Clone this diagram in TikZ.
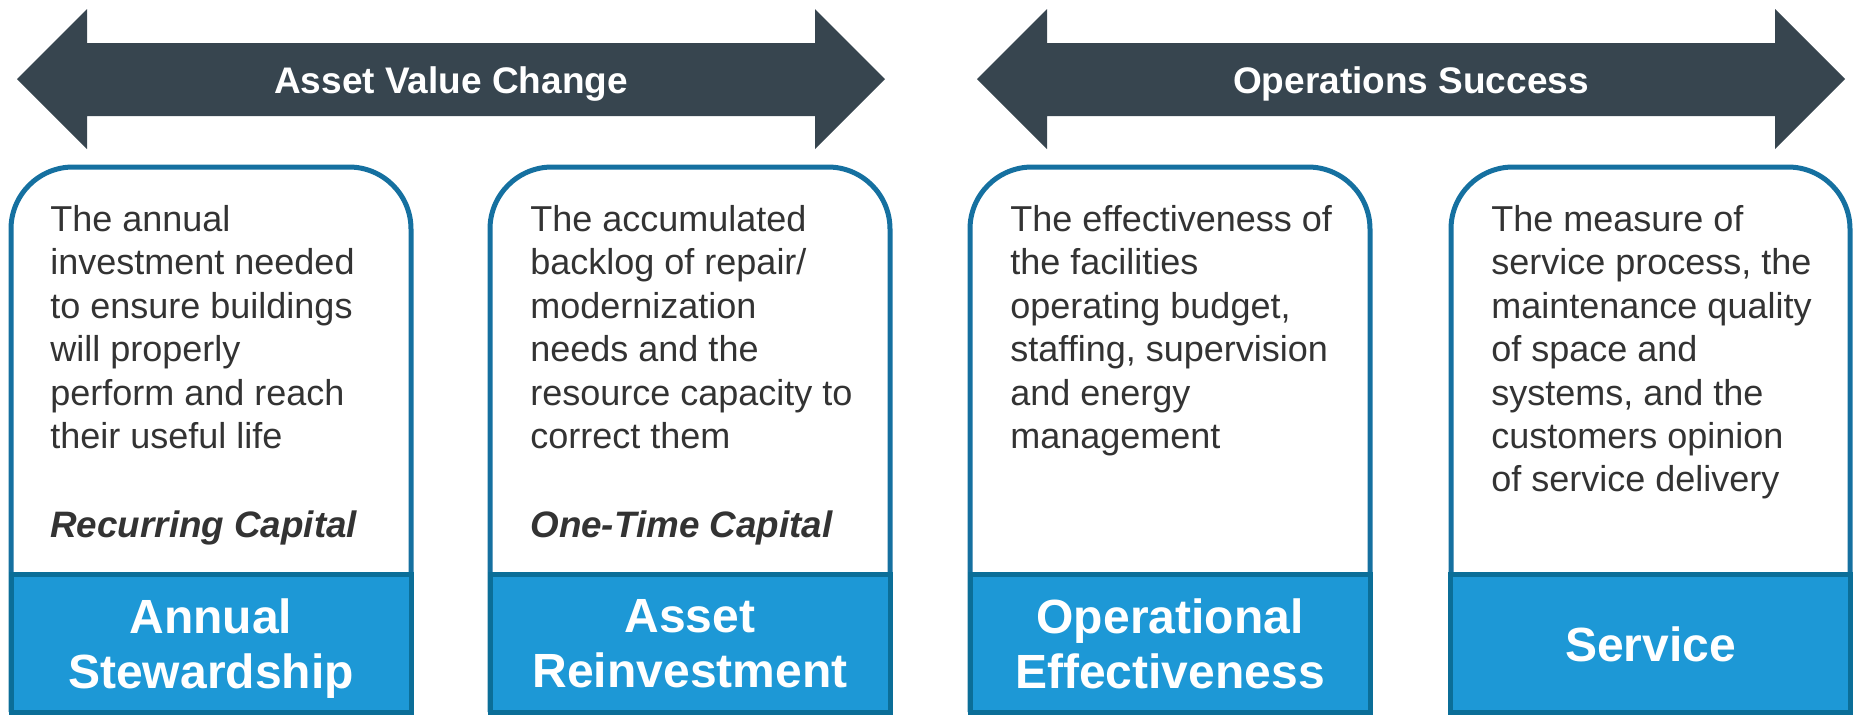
\documentclass[tikz,border=0pt]{standalone}
\usepackage{fontspec}
\setmainfont{Liberation Sans}
\definecolor{arrowc}{HTML}{37454F}
\definecolor{boxline}{HTML}{1570A0}
\definecolor{bluefill}{HTML}{1D98D6}
\definecolor{blueline}{HTML}{0B6E98}
\definecolor{txt}{HTML}{333333}
\begin{document}
\begin{tikzpicture}[x=0.5pt,y=-0.5pt,
  wbox/.style={draw=boxline, line width=2.5pt, fill=white, rounded corners=31pt},
  bbox/.style={draw=blueline, fill=bluefill, line width=2.5pt, minimum width=200pt, minimum height=69pt, inner sep=0pt},
  desc/.style={anchor=north west, align=left, inner sep=0pt, text=txt, font=\fontsize{18.0}{21.7}\selectfont},
  capt/.style={anchor=base west, inner sep=0pt, text=txt, font=\fontsize{18.4}{21.7}\selectfont\bfseries\itshape},
  blabel/.style={anchor=north, align=center, inner sep=0pt, text=white, font=\fontsize{24}{27.5}\selectfont\bfseries},
  hlabel/.style={anchor=base, inner sep=0pt, text=white, font=\fontsize{18.5}{22}\selectfont\bfseries},
  bigarrow/.style={fill=arrowc}]
\useasboundingbox (0,0) rectangle (1860,714);

% top arrows
\fill[bigarrow] (17,79) -- (87,9) -- (87,43) -- (815,43) -- (815,9) -- (885,79) -- (815,149) -- (815,116) -- (87,116) -- (87,149) -- cycle;
\node[hlabel] (h1) at (451,93) {Asset Value Change};
\fill[bigarrow] (977,79) -- (1047,9) -- (1047,43) -- (1775,43) -- (1775,9) -- (1845,79) -- (1775,149) -- (1775,116) -- (1047,116) -- (1047,149) -- cycle;
\node[hlabel] (h2) at (1411,93) {Operations Success};

% white boxes
\draw[wbox] (11,712) -- (11,167) -- (411,167) -- (411,712);
\draw[wbox] (490,712) -- (490,167) -- (890,167) -- (890,712);
\draw[wbox] (970,712) -- (970,167) -- (1370,167) -- (1370,712);
\draw[wbox] (1451,712) -- (1451,167) -- (1850,167) -- (1850,712);

% descriptions
\node[desc] (d1) at (50,205) {The annual\\investment needed\\to ensure buildings\\will properly\\perform and reach\\their useful life};
\node[capt] (c1) at (50,537) {Recurring Capital};
\node[desc] (d2) at (530,205) {The accumulated\\backlog of repair/\\modernization\\needs and the\\resource capacity to\\correct them};
\node[capt] (c2) at (530,537) {One-Time Capital};
\node[desc] (d3) at (1010,205) {The effectiveness of\\the facilities\\operating budget,\\staffing, supervision\\and energy\\management};
\node[desc] (d4) at (1491,205) {The measure of\\service process, the\\maintenance quality\\of space and\\systems, and the\\customers opinion\\of service delivery};

% blue boxes
\node[bbox] (b1) at (211,643) {};
\node[bbox] (b2) at (690,643) {};
\node[bbox] (b3) at (1170,643) {};
\node[bbox] (b4) at (1650.5,643) {};
\node[blabel] (l1) at (211,598.6) {Annual\\Stewardship};
\node[blabel] (l2) at (690,598.6) {Asset\\Reinvestment};
\node[blabel] (l3) at (1170,598.6) {Operational\\Effectiveness};
\node[blabel, anchor=base] (l4) at (1650.5,661) {Service};
\end{tikzpicture}
\end{document}
